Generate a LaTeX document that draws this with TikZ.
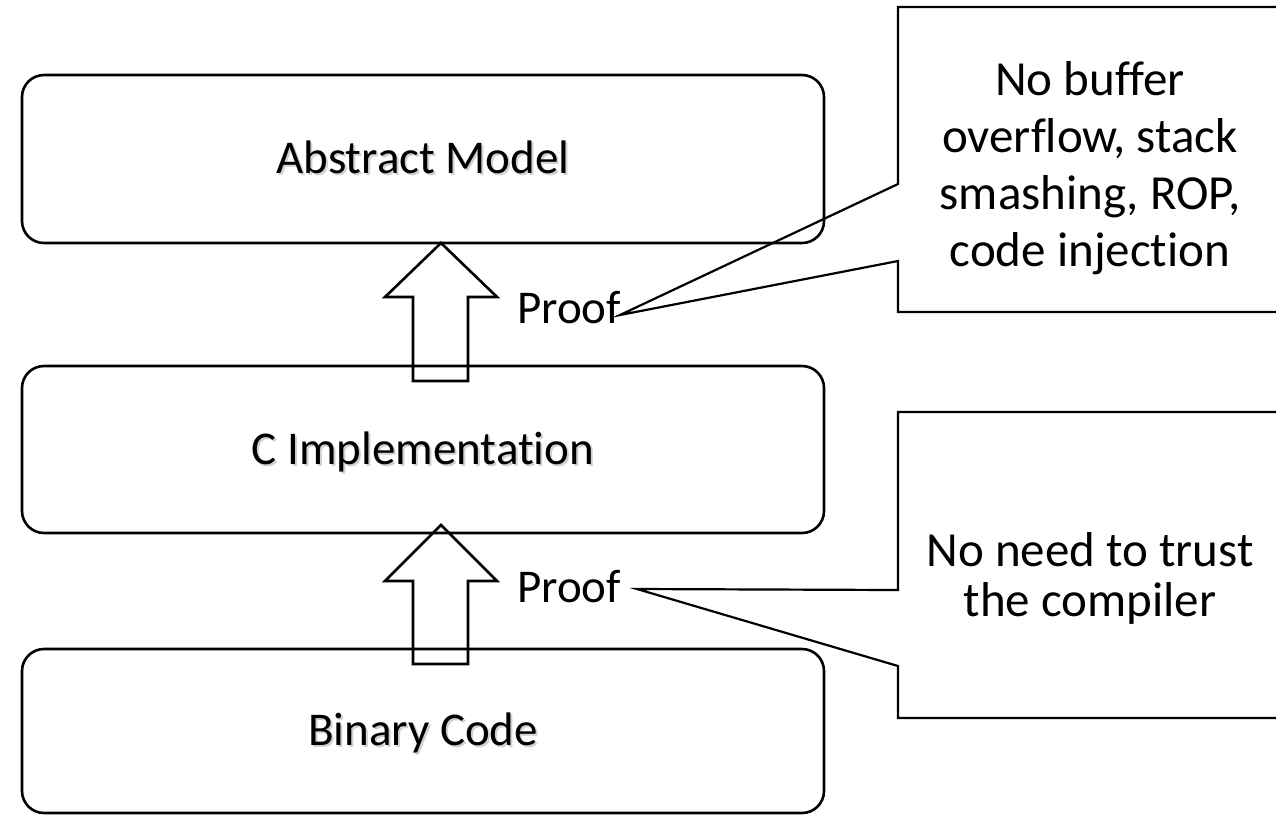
\documentclass[tikz,border=0pt]{standalone}
\usepackage{fontspec}
\setmainfont{Carlito}[RawFeature={-liga;-clig;-dlig;-calt;-hlig}]
\begin{document}
\begin{tikzpicture}[x=1pt,y=-1pt,
  bigfont/.style={font=\fontsize{47}{56}\selectfont},
  notefont/.style={font=\fontsize{49}{57}\selectfont},
  layerbox/.style={draw=black, line width=2.6pt, rounded corners=22pt, fill=none,
    minimum width=802pt, inner sep=0pt, bigfont, text height=30pt, text depth=1pt},
  layershadow/.style={bigfont, text=black!18, inner sep=0pt, text height=30pt, text depth=1pt},
  blockarrow/.style={draw=black, line width=2.6pt, line join=miter, fill=none},
  callout/.style={draw=black, line width=2.2pt, line join=miter, fill=white},
  notetext/.style={notefont, align=center, inner sep=0pt},
  prooflabel/.style={bigfont, inner sep=0pt, anchor=base west}]

\clip (0,0) rectangle (1276,815);
\fill[white] (0,0) rectangle (1276,815);

% soft text shadows of the layer titles
\node[layershadow] at (425,161) {Abstract Model};
\node[layershadow] at (425,451.5) {C Implementation};
\node[layershadow] at (425,733) {Binary Code};

% the three layers
\node[layerbox, minimum height=168pt] (abs) at (423,159) {Abstract Model};
\node[layerbox, minimum height=167pt] (cimp) at (423,449.5) {C Implementation};
\node[layerbox, minimum height=164pt] (bin) at (423,731) {Binary Code};

% hollow block arrows between the layers
\draw[blockarrow] (441,243) -- (497,297) -- (468,297) -- (468,381) -- (413,381)
  -- (413,297) -- (385,297) -- cycle;
\draw[blockarrow] (441,525) -- (497,581) -- (468,581) -- (468,664) -- (413,664)
  -- (413,581) -- (385,581) -- cycle;

% proof labels
\node[prooflabel] (p1) at (517,323) {Proof};
\node[prooflabel] (p2) at (517,602) {Proof};

% callout tails end here
\coordinate (tip1) at (620,315);
\coordinate (tip2) at (637,589);

% callout boxes with their pointers
\draw[callout, fill=none] (898,7) -- (1290,7) -- (1290,312) -- (898,312) -- (898,261)
  -- (tip1) -- (898,184) -- cycle;
\draw[callout] (898,412) -- (1290,412) -- (1290,718) -- (898,718) -- (898,666)
  -- (tip2) -- (898,590) -- cycle;

\node[notetext] (n1) at (1090,168) {No buffer\\overflow, stack\\smashing, ROP,\\code injection};
\node[notetext] (n2) at (1090,578) {No need to trust\\[-7pt]the compiler};
\end{tikzpicture}
\end{document}
